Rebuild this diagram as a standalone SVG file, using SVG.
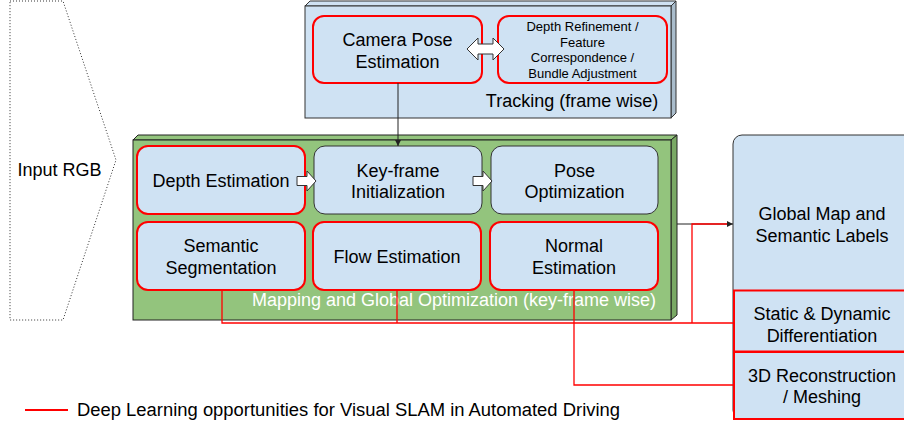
<svg xmlns="http://www.w3.org/2000/svg" width="904" height="423" viewBox="0 0 904 423">
<style>
text{font-family:"Liberation Sans",Arial,sans-serif;fill:#000;text-anchor:middle}
.t18{font-size:18px}
.t13{font-size:13px}
.red{fill:#cfe2f3;stroke:#ff0000;stroke-width:2}
.gray{fill:#cfe2f3;stroke:#333;stroke-width:1}
.rl{fill:none;stroke:#ff0000;stroke-width:1.3}
.bl{fill:none;stroke:#222;stroke-width:1}
.blk{fill:#fff;stroke:#333;stroke-width:1}
</style>
<defs>
<marker id="ah" viewBox="0 0 10 10" refX="10" refY="5" markerWidth="6" markerHeight="6" orient="auto" markerUnits="userSpaceOnUse">
<path d="M0,0 L10,5 L0,10 z" fill="#222"/>
</marker>
</defs>
<rect width="904" height="423" fill="#fff"/>

<g id="input-rgb">
<polygon points="10,1 63,1 116,160 63,320 10,320" fill="none" stroke="#333" stroke-width="1" stroke-dasharray="1,2"/>
<text class="t18" x="59.5" y="176">Input RGB</text>
</g>

<g id="tracking">
<polygon points="305,6 310,1 676,1 671,6" fill="#cfe2f3" stroke="#333" stroke-width="1"/>
<polygon points="671,6 676,1 676,113 671,118" fill="#a9bccb" stroke="#333" stroke-width="1"/>
<rect x="305" y="6" width="366" height="112" fill="#cfe2f3" stroke="#333" stroke-width="1"/>
<text class="t18" x="572" y="107">Tracking (frame wise)</text>
</g>

<g id="mapping">
<polygon points="133,140 138,135 677,135 671,140" fill="#93c47d" stroke="#222" stroke-width="1"/>
<polygon points="671,140 677,135 677,315 671,320" fill="#7aa965" stroke="#222" stroke-width="1"/>
<rect x="133" y="140" width="538" height="180" fill="#93c47d" stroke="#222" stroke-width="1"/>
<text class="t18" x="454" y="306" style="fill:#fff">Mapping and Global Optimization (key-frame wise)</text>
</g>

<g id="camera-pose">
<rect class="red" x="313" y="16" width="169" height="67" rx="11"/>
<text class="t18" x="397.5" y="46">Camera Pose</text>
<text class="t18" x="397.5" y="68">Estimation</text>
</g>

<g id="depth-refinement">
<rect class="red" x="498" y="16" width="169" height="67" rx="11"/>
<text class="t13" x="582.5" y="31">Depth Refinement /</text>
<text class="t13" x="582.5" y="46.5">Feature</text>
<text class="t13" x="582.5" y="62">Correspondence /</text>
<text class="t13" x="582.5" y="77.5">Bundle Adjustment</text>
</g>

<g id="depth-estimation">
<rect class="red" x="137" y="146" width="168" height="68" rx="11"/>
<text class="t18" x="221" y="187">Depth Estimation</text>
</g>

<g id="keyframe-init">
<rect class="gray" x="314" y="146" width="168" height="68" rx="11"/>
<text class="t18" x="398" y="177">Key-frame</text>
<text class="t18" x="398" y="198">Initialization</text>
</g>

<g id="pose-optimization">
<rect class="gray" x="491" y="146" width="167" height="68" rx="11"/>
<text class="t18" x="574.5" y="177">Pose</text>
<text class="t18" x="574.5" y="198">Optimization</text>
</g>

<g id="semantic-segmentation">
<rect class="red" x="137" y="222" width="168" height="68" rx="11"/>
<text class="t18" x="221" y="252">Semantic</text>
<text class="t18" x="221" y="274">Segmentation</text>
</g>

<g id="flow-estimation">
<rect class="red" x="313" y="222" width="168" height="68" rx="11"/>
<text class="t18" x="397" y="263">Flow Estimation</text>
</g>

<g id="normal-estimation">
<rect class="red" x="490" y="222" width="168" height="68" rx="11"/>
<text class="t18" x="574" y="252">Normal</text>
<text class="t18" x="574" y="274">Estimation</text>
</g>

<g id="global-map">
<rect x="733" y="135" width="190" height="284" rx="9" fill="#cfe2f3" stroke="#333" stroke-width="1"/>
<text class="t18" x="822" y="220">Global Map and</text>
<text class="t18" x="822" y="242">Semantic Labels</text>
</g>

<g id="static-dynamic">
<rect x="734" y="290.5" width="180" height="61" fill="#cfe2f3" stroke="#ff0000" stroke-width="2"/>
<text class="t18" x="822" y="320">Static &amp; Dynamic</text>
<text class="t18" x="822" y="342">Differentiation</text>
</g>

<g id="reconstruction">
<rect x="734" y="352" width="180" height="67" fill="#cfe2f3" stroke="#ff0000" stroke-width="2"/>
<text class="t18" x="822" y="382">3D Reconstruction</text>
<text class="t18" x="822" y="403">/ Meshing</text>
</g>

<g id="connectors">
<line class="bl" x1="398" y1="83" x2="398" y2="146" marker-end="url(#ah)"/>
<line class="bl" x1="677" y1="224" x2="733" y2="224" marker-end="url(#ah)"/>
<polyline class="rl" points="222,290 222,323 733,323"/>
<line class="rl" x1="397" y1="290" x2="397" y2="323"/>
<polyline class="rl" points="692,323 692,224 727,224"/>
<polyline class="rl" points="574,290 574,385 733,385"/>
<polygon class="blk" points="467,49 478,38 478,44 493,44 493,38 504,49 493,60 493,54 478,54 478,60"/>
<polygon class="blk" points="297,176.5 307,176.5 307,171 316,181 307,191 307,185.5 297,185.5"/>
<polygon class="blk" points="473,176.5 483,176.5 483,171 492,181 483,191 483,185.5 473,185.5"/>
</g>

<g id="legend">
<line x1="25" y1="410" x2="68" y2="410" stroke="#ff0000" stroke-width="2"/>
<text x="77" y="416" style="font-size:18px;text-anchor:start" textLength="543" lengthAdjust="spacingAndGlyphs">Deep Learning opportunities for Visual SLAM in Automated Driving</text>
</g>
</svg>
